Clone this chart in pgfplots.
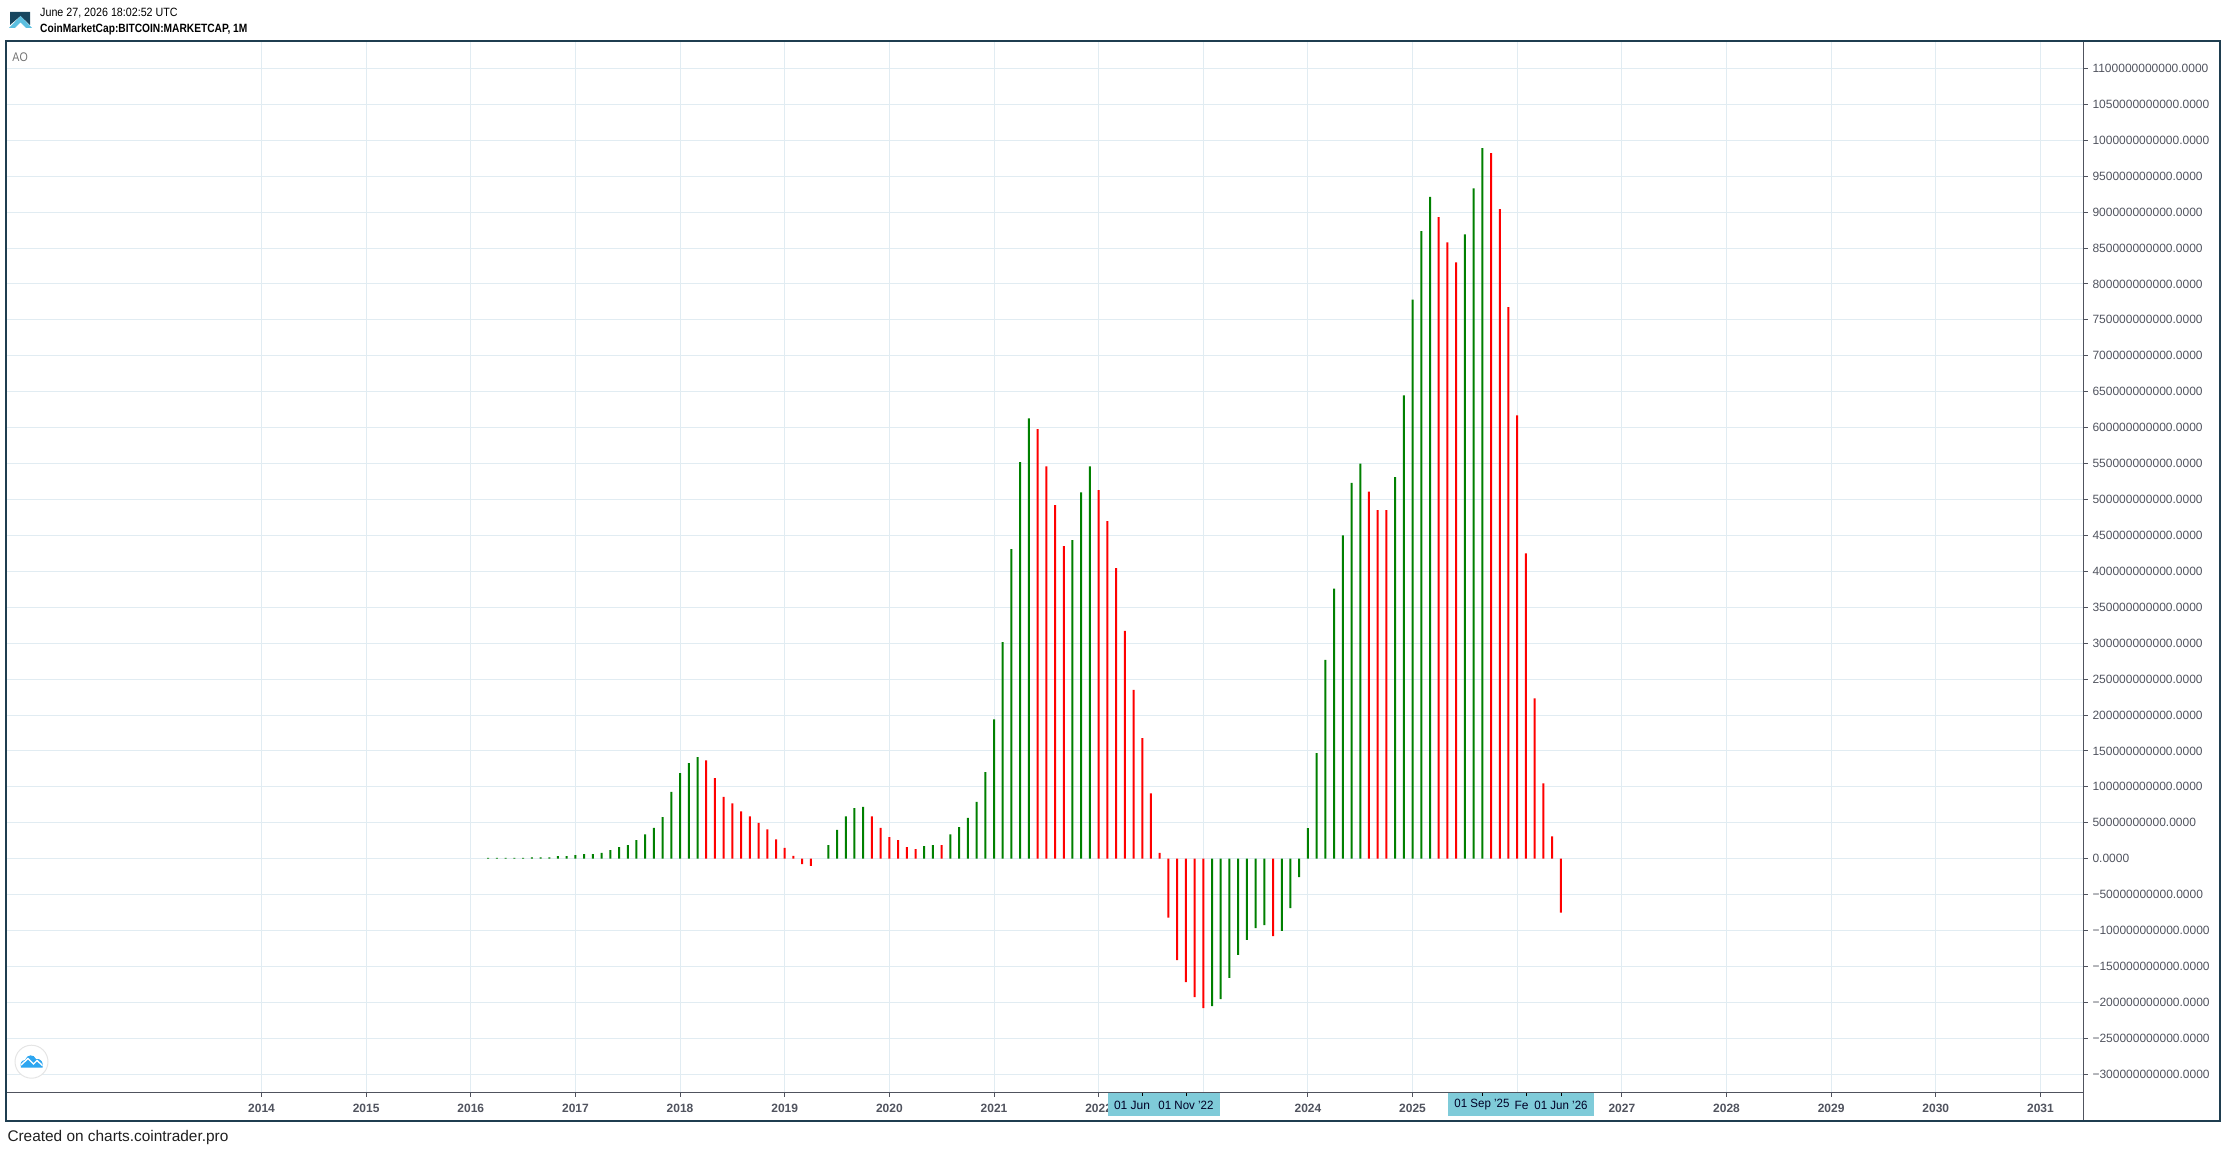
\documentclass[border=0pt]{standalone}
\usepackage{fontspec}
\setmainfont{Liberation Sans}
\usepackage{graphicx}
\usepackage{pgfplots}
\usepackage{pgfplotstable}
\pgfplotsset{compat=1.18}
\definecolor{gridc}{HTML}{E1ECF2}
\definecolor{axisc}{HTML}{50535E}
\definecolor{framec}{HTML}{1F3E50}
\definecolor{boxc}{HTML}{7FCBD9}
\definecolor{upc}{HTML}{008000}
\definecolor{downc}{HTML}{FF0000}
\definecolor{logod}{HTML}{17465F}
\definecolor{logol}{HTML}{5BBFE0}
\definecolor{cloudc}{HTML}{2EA6F0}
% x = months since January 2014, y = AO in billions
\pgfplotstableread{
m v
26 1
27 1
28 1
29 1
30 1
31 2
32 2
33 2
34 3.5
35 3.5
36 5
37 6.5
38 6.5
39 8
40 12
41 16
42 19
43 26
44 34
45 43
46 58
47 93
48 119
49 133
50 141.5
65 19
66 40
67 59
68 70.5
69 72
76 17.6
77 19
79 34
80 44
81 57
82 79
83 120.6
84 194
85 301.5
86 431
87 552
88 613
93 443.4
94 510
95 546
109 -205
110 -195.3
111 -166
112 -134
113 -113
114 -96.5
115 -92.3
117 -100.6
118 -68.6
119 -25.5
120 42.5
121 147
122 276.6
123 376
124 450
125 523
126 550
130 531
131 645
132 778
133 873.5
134 921
138 869
139 933
140 989
}\upbars
\pgfplotstableread{
m v
51 137
52 112
53 86
54 77
55 66
56 59
57 50
58 41
59 27
60 15
61 4
62 -7.4
63 -10
70 59
71 43
72 30
73 26
74 16
75 13.5
78 19
89 598
90 546
91 492
92 435
96 513
97 470
98 404.5
99 317
100 235
101 168
102 91
103 8
104 -82
105 -141
106 -171.6
107 -192.5
108 -207.8
116 -107.6
127 511
128 485
129 485
135 893
136 858
137 830
141 982
142 904
143 767.6
144 617
145 425
146 223
147 105
148 31
149 -75
}\downbars
\begin{document}
\begin{tikzpicture}
\path (0,0) rectangle (2226pt,1152pt);
\begin{axis}[
  at={(7pt,60pt)}, anchor=south west,
  scale only axis, width=2076.3pt, height=1050pt,
  xmin=-29.186, xmax=208.92, ymin=-324.7, ymax=1136.7,
  axis x line*=bottom, axis y line*=right,
  x axis line style={-, color=axisc, line width=1pt},
  y axis line style={-, color=axisc, line width=1pt},
  tick align=outside, major tick length=4.5pt,
  tick style={color=axisc, line width=1pt},
  grid=major, grid style={color=gridc, line width=1pt},
  xtick={0,12,24,36,48,60,72,84,96,108,120,132,144,156,168,180,192,204},
  xticklabels={2014,2015,2016,2017,2018,2019,2020,2021,2022,2023,2024,2025,2026,2027,2028,2029,2030,2031},
  ytick={-300,-250,-200,-150,-100,-50,0,50,100,150,200,250,300,350,400,450,500,550,600,650,700,750,800,850,900,950,1000,1050,1100},
  yticklabels={−300000000000.0000,−250000000000.0000,−200000000000.0000,−150000000000.0000,−100000000000.0000,−50000000000.0000,0.0000,50000000000.0000,100000000000.0000,150000000000.0000,200000000000.0000,250000000000.0000,300000000000.0000,350000000000.0000,400000000000.0000,450000000000.0000,500000000000.0000,550000000000.0000,600000000000.0000,650000000000.0000,700000000000.0000,750000000000.0000,800000000000.0000,850000000000.0000,900000000000.0000,950000000000.0000,1000000000000.0000,1050000000000.0000,1100000000000.0000},
  xticklabel style={font=\fontsize{12}{12}\selectfont\bfseries, color=axisc, inner sep=0pt, anchor=center, yshift=-11.5pt},
  yticklabel style={font=\fontsize{12}{12}\selectfont, color=axisc, inner sep=0pt, anchor=west, xshift=4.5pt},
]
\addplot[ybar, bar width=2pt, bar shift=0pt, draw=none, fill=upc] table[x=m,y=v] {\upbars};
\addplot[ybar, bar width=2pt, bar shift=0pt, draw=none, fill=downc] table[x=m,y=v] {\downbars};
\end{axis}
\begin{scope}[x=1pt,y=-1pt,yshift=1152pt]
  % crosshair date boxes
  \fill[boxc] (1108,1092.5) rectangle (1220,1116);
  \fill[boxc] (1448,1092.5) rectangle (1594,1116);
  \foreach \t in {1142.3,1186.3,1482.7,1526.4,1561.7} \draw[black,line width=1pt] (\t,1092.5) -- (\t,1096);
  \tikzset{dl/.style={font=\fontsize{12}{12}\selectfont, text=black!85!blue, inner sep=0pt}}
  \node[dl] at (1132,1105) {01 Jun};
  \node[dl] at (1186,1105) {\scalebox{0.96}[1]{01 Nov '22}};
  \node[dl] at (1482,1105) {\scalebox{0.96}[1]{01 Sep '25}};
  \node[dl] at (1521.5,1105) {Fe};
  \node[dl] at (1561,1105) {\scalebox{0.96}[1]{01 Jun '26}};
  % axis continuation and frame
  \draw[axisc,line width=1pt] (2083.3,1092) -- (2083.3,1120);
  \draw[framec,line width=2pt] (6.3,41) rectangle (2219.7,1120.5);
  % header
  \fill[logod] (10,12) -- (30,12) -- (30,25) -- (20.5,16) -- (10,25) -- cycle;
  \fill[logol] (9,28) -- (20.5,16) -- (32,28) -- (26,28) -- (20.5,22.5) -- (15,28) -- cycle;
  \node[anchor=west, inner sep=0pt, font=\fontsize{12}{12}\selectfont] at (40,13) {\scalebox{0.892}[1]{June 27, 2026 18:02:52 UTC}};
  \node[anchor=west, inner sep=0pt, font=\fontsize{12}{12}\selectfont\bfseries] at (40,29.7) {\scalebox{0.85}[1]{CoinMarketCap:BITCOIN:MARKETCAP, 1M}};
  \node[anchor=west, inner sep=0pt, text=black!55, font=\fontsize{12.5}{12.5}\selectfont] at (12.3,57.3) {\scalebox{0.85}[1]{AO}};
  % watermark
  \draw[black!10,fill=white,line width=1pt] (31.5,1061.7) circle (16.5);
  \fill[cloudc] (21,1067.7) .. controls (19.5,1062) and (22,1060.5) .. (25,1060) .. controls (27,1054) and (34,1054) .. (36,1059) .. controls (41,1058) and (44,1063) .. (42.5,1067.7) -- cycle;
  \draw[white,line width=1.4pt] (21,1065) -- (28,1058.5) -- (33.5,1064) -- (37,1060.5) -- (42.5,1065.5);
  % footer
  \node[anchor=west, inner sep=0pt, text=black!88, font=\fontsize{15.4}{15.4}\selectfont] at (7.3,1138) {Created on charts.cointrader.pro};
\end{scope}
\end{tikzpicture}
\end{document}
